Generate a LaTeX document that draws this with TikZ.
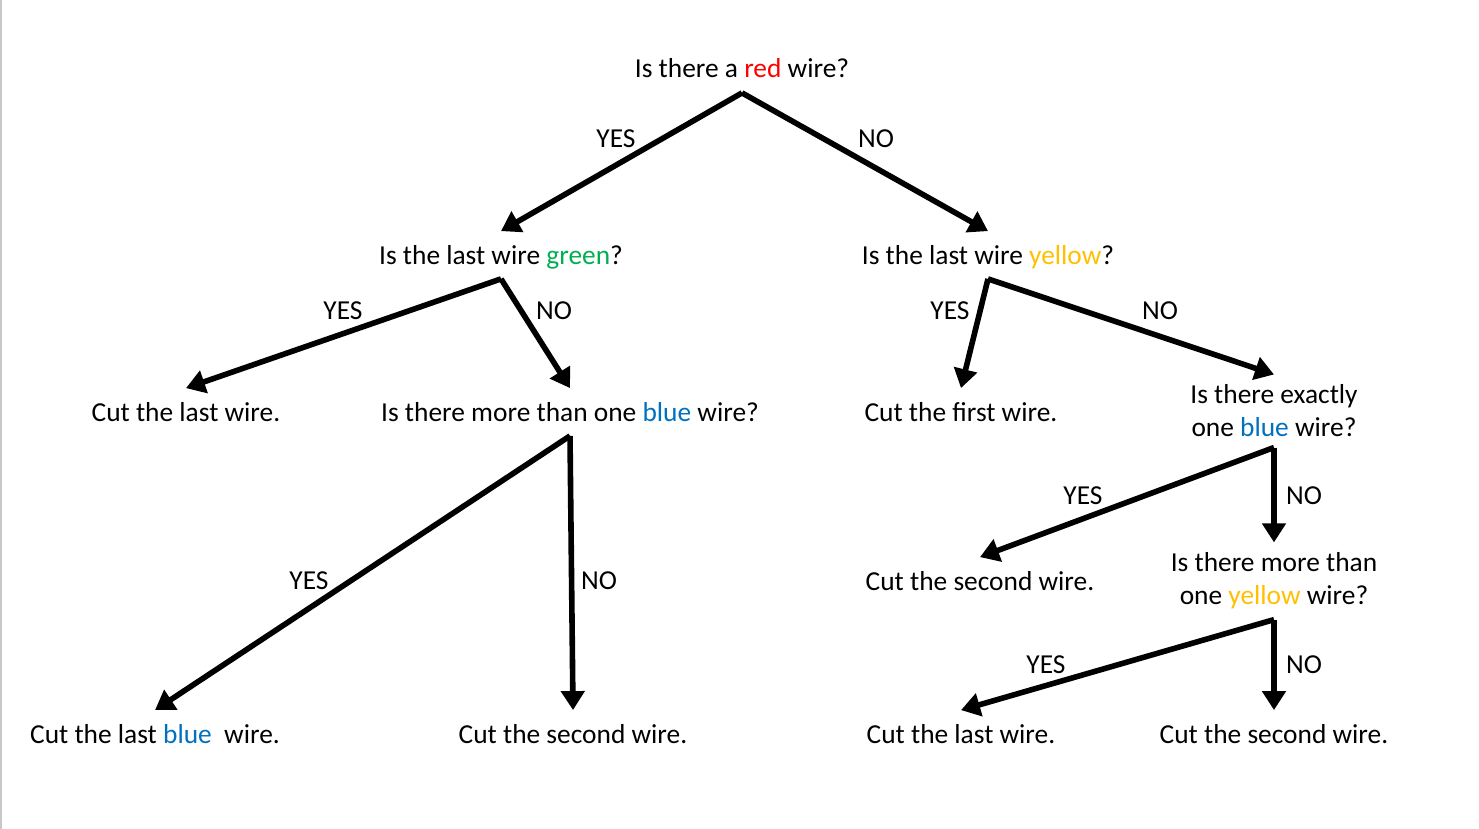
\documentclass[tikz,border=0pt]{standalone}
\usepackage{fontspec}
\setmainfont{Carlito}
\usepackage{tikz}
\usetikzlibrary{arrows.meta}

\definecolor{wred}{RGB}{255,0,0}
\definecolor{wgreen}{RGB}{0,176,80}
\definecolor{wyellow}{RGB}{255,192,0}
\definecolor{wblue}{RGB}{0,112,192}
\definecolor{edge}{RGB}{200,200,200}

\begin{document}
\begin{tikzpicture}[x=0.5pt,y=-0.5pt,
      txt/.style={align=center,inner xsep=2pt,inner ysep=5.75pt,text height=10.5pt,text depth=1.5pt,font=\fontsize{13.7}{16.5}\selectfont},
      txtii/.style={align=center,inner xsep=2pt,inner ysep=5pt,font=\fontsize{13.7}{16.5}\selectfont},
      lbl/.style={inner sep=0pt,font=\fontsize{13.7}{16.5}\selectfont},
      arr/.style={-{Triangle[length=9.5pt,width=11.5pt]},line width=2.8pt}]

      \useasboundingbox (0,0) rectangle (1479,829);
      \draw[edge,line width=1pt] (1,0) -- (1,829);

      \node[txt] (root) at (742,69){Is there a {\color{wred}red} wire?};
      \node[txt] (green) at (501,255){Is the last wire {\color{wgreen}green}?};
      \node[txt] (yellow) at (988,255){Is the last wire {\color{wyellow}yellow}?};
      \node[txt] (lastA) at (186,412){Cut the last wire.};
      \node[txt] (moreblue) at (570,412){Is there more than one {\color{wblue}blue} wire?};
      \node[txt] (first) at (961,412){Cut the first wire.};
      \node[txtii] (exactly) at (1274,411){Is there exactly\\one {\color{wblue}blue} wire?};
      \node[txt] (lastblue) at (155,734){Cut the last {\color{wblue}blue}~ wire.};
      \node[txt] (secondA) at (573,734){Cut the second wire.};
      \node[txt] (secondB) at (980,581){Cut the second wire.};
      \node[txtii] (moreyellow) at (1274,581){Is there more than\\one {\color{wyellow}yellow} wire?};
      \node[txt] (lastB) at (961,734){Cut the last wire.};
      \node[txt] (secondC) at (1274,734){Cut the second wire.};

      \draw[arr] (root.south) -- (green.north);
      \draw[arr] (root.south) -- (yellow.north);
      \draw[arr] (green.south) -- (lastA.north);
      \draw[arr] (green.south) -- (moreblue.north);
      \draw[arr] (yellow.south) -- (first.north);
      \draw[arr] (yellow.south) -- (exactly.north);
      \draw[arr] (moreblue.south) -- (lastblue.north);
      \draw[arr] (moreblue.south) -- (secondA.north);
      \draw[arr] (exactly.south) -- (secondB.north);
      \draw[arr] (exactly.south) -- (moreyellow.north);
      \draw[arr] (moreyellow.south) -- (lastB.north);
      \draw[arr] (moreyellow.south) -- (secondC.north);

      \node[lbl] (y1) at (616,139){YES};
      \node[lbl] (n1) at (876,139){NO};
      \node[lbl] (y2) at (343,311){YES};
      \node[lbl] (n2) at (554,311){NO};
      \node[lbl] (y3) at (950,311){YES};
      \node[lbl] (n3) at (1160,311){NO};
      \node[lbl] (y4) at (309,581){YES};
      \node[lbl] (n4) at (599,581){NO};
      \node[lbl] (y5) at (1083,496){YES};
      \node[lbl] (n5) at (1304,496){NO};
      \node[lbl] (y6) at (1046,665){YES};
      \node[lbl] (n6) at (1304,665){NO};

    \end{tikzpicture}
\end{document}
